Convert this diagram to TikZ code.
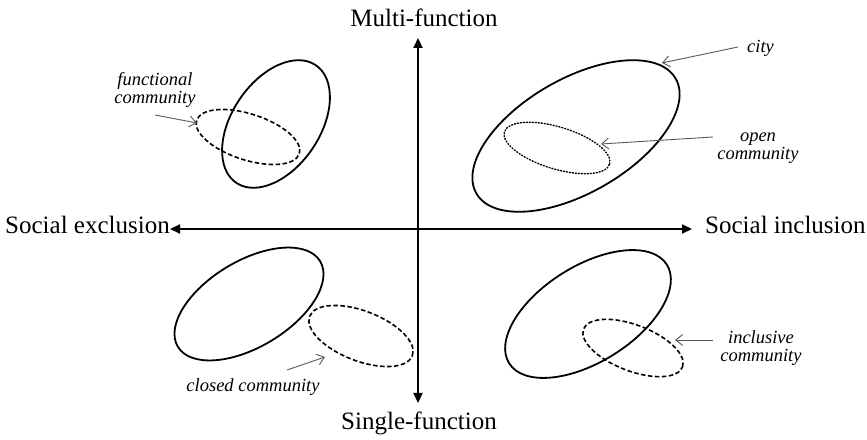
\documentclass[tikz,border=0pt]{standalone}
\usepackage{fontspec}
\setmainfont{Liberation Serif}
\usetikzlibrary{arrows.meta,shapes.geometric}
\tikzset{
  ell/.style={ellipse, draw, line width=1.8pt, inner sep=0pt},
  dashell/.style={ell, line width=1.6pt, dash pattern=on 4.5pt off 2.5pt},
  dotell/.style={ell, line width=1.4pt, dash pattern=on 1.1pt off 1.9pt, line cap=round},
  axis/.style={line width=2.2pt, {Triangle[length=10pt,width=9pt]}-{Triangle[length=10pt,width=9pt]}},
  axlbl/.style={font=\fontsize{25}{28}\selectfont, inner sep=0pt},
  lbl/.style={font=\fontsize{18.5}{18}\selectfont\itshape, align=center, inner sep=0pt},
  lab/.style={line width=0.9pt, black!65, -{Straight Barb[length=7pt,width=11pt]}}
}
\begin{document}
\begin{tikzpicture}[x=1pt,y=1pt]
\useasboundingbox (0,0) rectangle (867,439);
% axes
\coordinate (vtop) at (418,401);
\coordinate (vbot) at (418,36);
\coordinate (hleft) at (170,210);
\coordinate (hright) at (692,210);
\draw[axis] (vbot) -- (vtop);
\draw[axis] (hleft) -- (hright);
% axis labels
\node[axlbl, anchor=base] (multi) at (424,412) {Multi-function};
\node[axlbl, anchor=base] (single) at (419,10) {Single-function};
\node[axlbl, anchor=base west] (excl) at (5,205) {Social exclusion};
\node[axlbl, anchor=base west] (incl) at (705,205) {Social inclusion};
% ellipses
\node[ell, minimum width=142pt, minimum height=88pt, rotate=56] (tlsolid) at (276,315) {};
\node[dashell, minimum width=108pt, minimum height=46pt, rotate=-18] (tldash) at (248,302) {};
\node[ell, minimum width=230pt, minimum height=114pt, rotate=30] (trsolid) at (576,303) {};
\node[dotell, minimum width=110pt, minimum height=42pt, rotate=-17] (trdot) at (557,291) {};
\node[ell, minimum width=166pt, minimum height=86pt, rotate=31] (blsolid) at (249,135) {};
\node[dashell, minimum width=110pt, minimum height=50pt, rotate=-21] (bldash) at (361,103) {};
\node[ell, minimum width=186pt, minimum height=96pt, rotate=32] (brsolid) at (588,125) {};
\node[dashell, minimum width=106pt, minimum height=46pt, rotate=-21] (brdash) at (633,91) {};
% labels
\node[lbl] (funclbl) at (155,349) {functional\\community};
\node[lbl, anchor=base west] (citylbl) at (747,386) {city};
\node[lbl] (openlbl) at (758,291) {open\\community};
\node[lbl, anchor=base] (closedlbl) at (253,47) {closed community};
\node[lbl] (incllbl) at (761,91) {inclusive\\community};
% label arrows
\coordinate (functail) at (155,324);
\coordinate (funchead) at (197,316);
\coordinate (citytail) at (738,392);
\coordinate (cityhead) at (662,376);
\coordinate (opentail) at (713,302);
\coordinate (openhead) at (601,295);
\coordinate (closedtail) at (287,69);
\coordinate (closedhead) at (325,82);
\coordinate (incltail) at (713,99);
\coordinate (inclhead) at (675,99);
\draw[lab] (functail) -- (funchead);
\draw[lab] (citytail) -- (cityhead);
\draw[lab] (opentail) -- (openhead);
\draw[lab] (closedtail) -- (closedhead);
\draw[lab] (incltail) -- (inclhead);
\end{tikzpicture}
\end{document}
